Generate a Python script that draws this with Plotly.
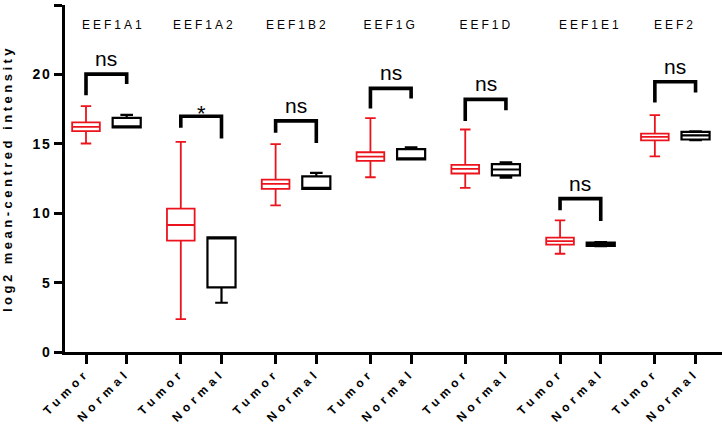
import plotly.graph_objects as go

# ---------------- data ----------------
genes = ["EEF1A1", "EEF1A2", "EEF1B2", "EEF1G", "EEF1D", "EEF1E1", "EEF2"]
group_labels = ["Tumor", "Normal"]

tumor_min = [15.02, 2.37, 10.57, 12.59, 11.82, 7.08, 14.10]
tumor_q1 = [15.91, 8.02, 11.75, 13.77, 12.86, 7.73, 15.24]
tumor_median = [16.22, 9.15, 12.11, 14.08, 13.19, 7.99, 15.50]
tumor_q3 = [16.54, 10.33, 12.42, 14.39, 13.48, 8.24, 15.74]
tumor_max = [17.71, 15.14, 14.97, 16.85, 16.03, 9.49, 17.06]

normal_min = [16.18, 3.55, 11.75, 13.87, 12.57, 7.62, 15.27]
normal_q1 = [16.18, 4.65, 11.75, 13.87, 12.73, 7.65, 15.31]
normal_median = [16.25, 8.20, 11.80, 13.95, 13.15, 7.75, 15.60]
normal_q3 = [16.87, 8.26, 12.66, 14.61, 13.53, 7.88, 15.86]
normal_max = [17.09, 8.26, 12.90, 14.75, 13.67, 7.92, 15.90]

significance = ["ns", "*", "ns", "ns", "ns", "ns", "ns"]
bracket_top = [20.02, 16.99, 16.65, 18.99, 18.20, 11.05, 19.47]
bracket_left_end = [18.50, 16.15, 15.79, 17.55, 16.65, 10.21, 17.98]
bracket_right_end = [19.30, 15.38, 15.06, 18.27, 17.42, 9.44, 18.70]

y_ticks = [0, 5, 10, 15, 20, 25]
y_title = "log2 mean-centred intensity"

# ---------------- layout constants ----------------
GROUP_STEP = 2.33
tumor_x = [i * GROUP_STEP for i in range(len(genes))]
normal_x = [x + 1 for x in tumor_x]
LABEL_Y = 23.55
label_xshift = [7, 3, 2, 0, 1, 10, 0]

RED = "rgb(235,20,28)"
FONT = "Liberation Sans, Arial, Helvetica, sans-serif"

fig = go.Figure()

fig.add_trace(go.Box(
    x=tumor_x, q1=tumor_q1, median=tumor_median, q3=tumor_q3,
    lowerfence=tumor_min, upperfence=tumor_max,
    width=0.68, whiskerwidth=0.38,
    line=dict(color=RED, width=1.8), fillcolor="rgba(0,0,0,0)",
    boxpoints=False, showlegend=False, name="Tumor",
))
fig.add_trace(go.Box(
    x=normal_x, q1=normal_q1, median=normal_median, q3=normal_q3,
    lowerfence=normal_min, upperfence=normal_max,
    width=0.69, whiskerwidth=0.45,
    line=dict(color="black", width=2.2), fillcolor="rgba(0,0,0,0)",
    boxpoints=False, showlegend=False, name="Normal",
))

shapes = []
annotations = []
for i, g in enumerate(genes):
    xt, xn = tumor_x[i], normal_x[i]
    path = (f"M {xt} {bracket_left_end[i]} L {xt} {bracket_top[i]} "
            f"L {xn} {bracket_top[i]} L {xn} {bracket_right_end[i]}")
    shapes.append(dict(type="path", xref="x", yref="y", path=path,
                       line=dict(color="black", width=3.6)))
    if significance[i] == "*":
        annotations.append(dict(x=(xt + xn) / 2, y=bracket_top[i], xref="x", yref="y",
                                text=significance[i], showarrow=False,
                                yanchor="middle", yshift=3,
                                font=dict(family=FONT, size=22, color="black")))
    else:
        annotations.append(dict(x=(xt + xn) / 2, y=bracket_top[i], xref="x", yref="y",
                                text=significance[i], showarrow=False,
                                yanchor="bottom", yshift=2,
                                font=dict(family=FONT, size=21, color="black")))
    annotations.append(dict(x=(xt + xn) / 2, y=LABEL_Y, xref="x", yref="y",
                            text=g, showarrow=False, yanchor="middle",
                            xshift=label_xshift[i],
                            font=dict(family=FONT, size=12, color="black")))

fig.update_layout(
    width=722, height=424,
    margin=dict(l=65, r=0, t=5, b=72, autoexpand=False),
    paper_bgcolor="white", plot_bgcolor="white",
    shapes=shapes, annotations=annotations,
    font=dict(family=FONT, color="black"),
)

fig.update_xaxes(
    range=[-0.516, 15.63], automargin=False,
    tickvals=tumor_x + normal_x,
    ticktext=[group_labels[0]] * len(genes) + [group_labels[1]] * len(genes),
    tickangle=-45, ticklabelstandoff=-3,
    tickfont=dict(family=FONT, size=12, color="black", weight="bold"),
    showgrid=False, zeroline=False,
    showline=True, linecolor="black", linewidth=3,
    ticks="outside", ticklen=9, tickwidth=3, tickcolor="black",
)
fig.update_yaxes(
    range=[0, 25], automargin=False,
    tickvals=y_ticks,
    ticktext=[str(v) for v in y_ticks],
    tickfont=dict(family=FONT, size=14, color="black", weight="bold"),
    showgrid=False, zeroline=False,
    showline=True, linecolor="black", linewidth=3,
    ticks="outside", ticklen=8, tickwidth=3, tickcolor="black",
    title=dict(text=y_title, standoff=26,
               font=dict(family=FONT, size=13, color="black", weight="bold")),
)

post_js = """
document.body.style.margin = '0';
document.body.style.padding = '0';
var gd = document.getElementById('{plot_id}');
function spaceText(){
  gd.querySelectorAll('.xtick text').forEach(function(t){ t.style.letterSpacing = '4.6px'; });
  gd.querySelectorAll('.ytick text').forEach(function(t){ t.style.letterSpacing = '1.5px'; });
  gd.querySelectorAll('.g-ytitle text').forEach(function(t){ t.style.letterSpacing = '3.5px'; });
  gd.querySelectorAll('.annotation-text').forEach(function(t){
    if ((t.textContent || '').indexOf('EEF') === 0) { t.style.letterSpacing = '3px'; }
  });
}
spaceText();
"""

fig.write_html("out.html", post_script=post_js, config={"displayModeBar": False})
